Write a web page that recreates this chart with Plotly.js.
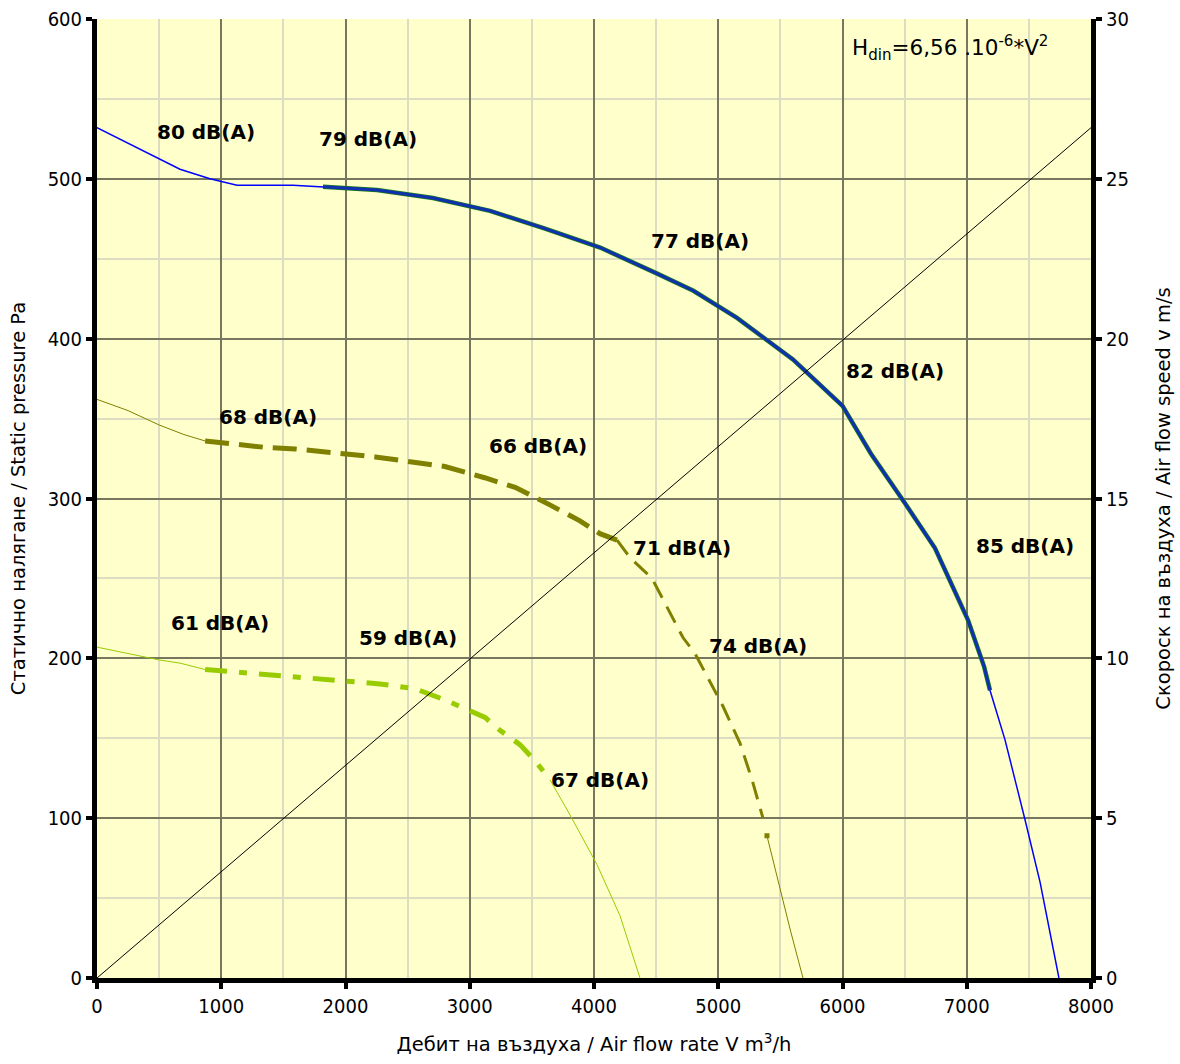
<!DOCTYPE html>
<html>
<head>
<meta charset="utf-8">
<script src="https://cdn.plot.ly/plotly-3.0.1.min.js"></script>
<style>html,body{margin:0;padding:0;background:#fff;}#chart{width:1180px;height:1064px;}</style>
</head>
<body>
<div id="chart"></div>
<script>
// ---- data ----
const blueX = [0,668,909,1127,1577,1819,2253,2704,3163,3600,4050,4500,4800,5151,5601,6000,6229,6503,6744,7010,7139,7187,7308,7469,7590,7742];
const blueY = [532,506,500,496,496,495,493,488,480,469,457,441,430,413,387,358,328,297,269,224,195,180,149,99,60,0];
const blueWorkFrom = 5, blueWorkTo = 21;

const oliveX = [0,250,500,700,870,1352,1594,2000,2240,2520,2800,3120,3365,3645,3887,4048,4185,4290,4467,4716,4813,5038,5175,5272,5360,5392,5481,5580,5682];
const oliveY = [362,355,346,340,336,332,331,328,326,323,320,313,307,296,286,278,274,263,250,213,203,170,147,124,100,89,61,30,0];
const oliveThickFrom = 4, oliveThickTo = 16, oliveMidTo = 24, oliveTailFrom = 25;

const greenX = [0,250,500,668,870,1312,1634,2000,2278,2560,2800,3123,3243,3404,3525,3646,3807,4024,4209,4370];
const greenY = [207,203,199,197,193,190,188,186,184,181,174,163,155,146,136,124,102,71,39,0];
const greenDashFrom = 4, greenDashTo = 15;

const speedX = [0,8000];
const speedY = [0,26.6];

const labelText = ["80 dB(A)","79 dB(A)","77 dB(A)","82 dB(A)","85 dB(A)","68 dB(A)","66 dB(A)","71 dB(A)","74 dB(A)","61 dB(A)","59 dB(A)","67 dB(A)"];
const labelX = [877,2181,4853,6423,7469,1376,3549,4708,5320,990,2503,4048];
const labelY = [529,525,461,380,270,351,333,269,208,222,213,124];

const xTicks = [0,1000,2000,3000,4000,5000,6000,7000,8000];
const yTicks = [0,100,200,300,400,500,600];
const y2Ticks = [0,5,10,15,20,25,30];

const formulaText = "H<sub>din</sub>=6,56 .10<sup>-6</sup>*V<sup>2</sup>";
const xTitle = "Дебит на въздуха / Air flow rate V m<sup>3</sup>/h";
const yTitle = "Статично налягане / Static pressure Pa";
const y2Title = "Скороск на въздуха / Air flow speed v m/s";

// ---- styling ----
const FONT = "DejaVu Sans Condensed, DejaVu Sans, sans-serif";
const FONT_WIDE = "DejaVu Sans, sans-serif";
const sl = (a, i, j) => a.slice(i, j + 1);

const traces = [
  {x: speedX, y: speedY, yaxis: 'y2', mode: 'lines', line: {color: '#000', width: 1}},
  // blue curve
  {x: blueX, y: blueY, mode: 'lines', line: {color: '#0000ff', width: 1.5}},
  {x: sl(blueX, blueWorkFrom, blueWorkTo), y: sl(blueY, blueWorkFrom, blueWorkTo), mode: 'lines', line: {color: '#1a7a1a', width: 4.5}},
  {x: sl(blueX, blueWorkFrom, blueWorkTo), y: sl(blueY, blueWorkFrom, blueWorkTo), mode: 'lines', line: {color: '#1030b0', width: 3}},
  // olive curve
  {x: sl(oliveX, 0, oliveThickFrom), y: sl(oliveY, 0, oliveThickFrom), mode: 'lines', line: {color: '#808000', width: 1}},
  {x: sl(oliveX, oliveThickFrom, oliveThickTo), y: sl(oliveY, oliveThickFrom, oliveThickTo), mode: 'lines', line: {color: '#808000', width: 5, dash: '24px,10px'}},
  {x: sl(oliveX, oliveThickTo, oliveMidTo), y: sl(oliveY, oliveThickTo, oliveMidTo), mode: 'lines', line: {color: '#808000', width: 3, dash: '18px,10px'}},
  {x: sl(oliveX, oliveTailFrom, oliveX.length - 1), y: sl(oliveY, oliveTailFrom, oliveY.length - 1), mode: 'lines', line: {color: '#808000', width: 1}},
  {x: [oliveX[oliveTailFrom]], y: [oliveY[oliveTailFrom]], mode: 'markers', marker: {symbol: 'square', size: 5, color: '#808000'}},
  // green curve
  {x: sl(greenX, 0, greenDashFrom), y: sl(greenY, 0, greenDashFrom), mode: 'lines', line: {color: '#99cc00', width: 1}},
  {x: sl(greenX, greenDashFrom, greenDashTo), y: sl(greenY, greenDashFrom, greenDashTo), mode: 'lines', line: {color: '#99cc00', width: 5, dash: '22px,12px,8px,12px'}},
  {x: sl(greenX, greenDashTo, greenX.length - 1), y: sl(greenY, greenDashTo, greenY.length - 1), mode: 'lines', line: {color: '#99cc00', width: 1}}
];

const annotations = labelText.map((t, i) => ({
  x: labelX[i], y: labelY[i], xref: 'x', yref: 'y', text: '<b>' + t + '</b>',
  showarrow: false, font: {family: FONT_WIDE, size: 20, color: '#000'}
}));
annotations.push({
  x: 6060, y: 582, xref: 'x', yref: 'y', xanchor: 'left', text: formulaText,
  showarrow: false, font: {family: FONT_WIDE, size: 21.5, color: '#000'}
});

const gridMajor = '#77775f', gridMinor = '#dcdcc2';
const layout = {
  width: 1180, height: 1064,
  margin: {l: 97, r: 89, t: 19, b: 86, pad: 0},
  paper_bgcolor: '#ffffff', plot_bgcolor: '#ffffcc',
  showlegend: false,
  font: {family: FONT, size: 20, color: '#000'},
  xaxis: {
    range: [0, 8000], tickvals: xTicks, ticktext: xTicks.map(String),
    showgrid: true, gridcolor: gridMajor, gridwidth: 2,
    minor: {dtick: 500, showgrid: true, gridcolor: gridMinor, gridwidth: 2, ticks: ''},
    zeroline: false, showline: true, linecolor: '#000', linewidth: 5,
    ticks: 'outside', ticklen: 6, tickwidth: 4, tickcolor: '#000',
    tickfont: {family: FONT, size: 20},
    title: {text: xTitle, font: {family: FONT_WIDE, size: 19.5}, standoff: 22}
  },
  yaxis: {
    range: [0, 600], tickvals: yTicks, ticktext: yTicks.map(String),
    showgrid: true, gridcolor: gridMajor, gridwidth: 2,
    minor: {dtick: 50, showgrid: true, gridcolor: gridMinor, gridwidth: 2, ticks: ''},
    zeroline: false, showline: true, linecolor: '#000', linewidth: 5, mirror: false,
    ticks: 'outside', ticklen: 6, tickwidth: 4, tickcolor: '#000',
    tickfont: {family: FONT, size: 20},
    title: {text: yTitle, font: {family: FONT_WIDE, size: 19.5}, standoff: 18}
  },
  yaxis2: {
    overlaying: 'y', side: 'right', range: [0, 30], tickvals: y2Ticks, ticktext: y2Ticks.map(String),
    showgrid: false, zeroline: false, showline: true, linecolor: '#000', linewidth: 5,
    ticks: 'outside', ticklen: 6, tickwidth: 4, tickcolor: '#000',
    tickfont: {family: FONT, size: 20},
    title: {text: y2Title, font: {family: FONT_WIDE, size: 19.5}, standoff: 30}
  },
  annotations: annotations
};

Plotly.newPlot('chart', traces, layout, {displayModeBar: false, staticPlot: true});
</script>
</body>
</html>
